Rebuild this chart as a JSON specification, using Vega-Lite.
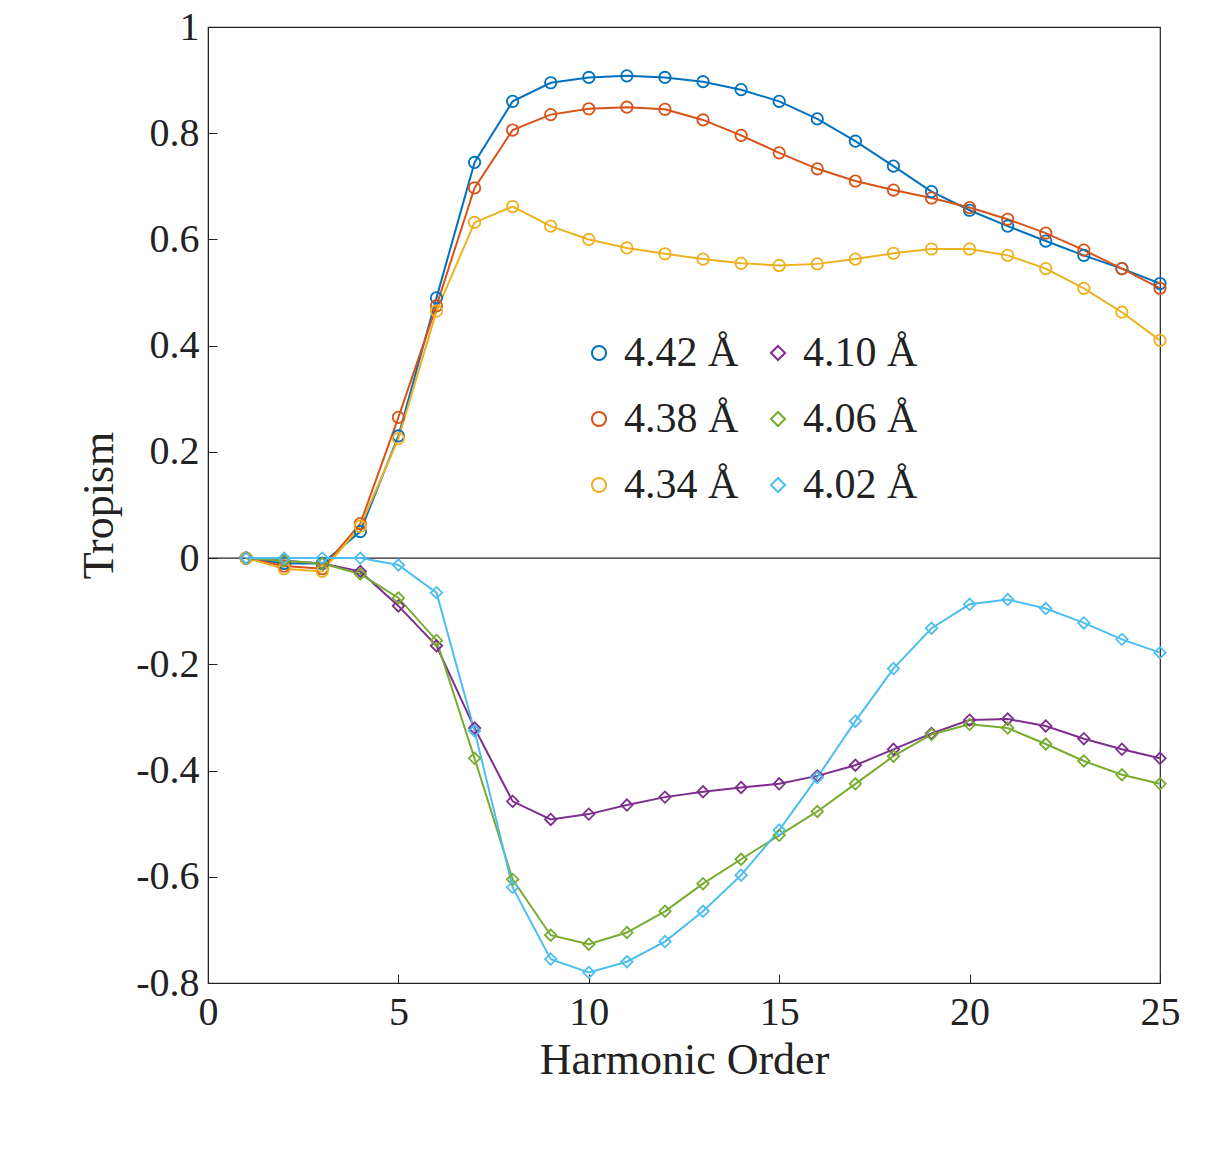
{
  "$schema": "https://vega.github.io/schema/vega-lite/v6.json",
  "width": 952,
  "height": 956,
  "autosize": "none",
  "padding": {"left": 208, "top": 27, "right": 62, "bottom": 171},
  "background": "white",
  "config": {
    "font": "Liberation Serif",
    "view": {"stroke": "#222", "strokeWidth": 1.2},
    "axis": {"grid": false, "labelFont": "Liberation Serif", "titleFont": "Liberation Serif", "labelFontSize": 40, "titleFontSize": 44, "titleFontWeight": "normal", "labelColor": "#222", "titleColor": "#222", "domainColor": "#222", "tickColor": "#222", "tickSize": -9, "labelPadding": 18, "labelFlush": false}
  },
  "datasets": {
    "zero": [{"y": 0}]
  },
  "data": {
    "values": [
      {"h":1,"s":"4.42 Å","v":0},{"h":2,"s":"4.42 Å","v":-0.01},{"h":3,"s":"4.42 Å","v":-0.01},{"h":4,"s":"4.42 Å","v":0.05},{"h":5,"s":"4.42 Å","v":0.23},{"h":6,"s":"4.42 Å","v":0.49},{"h":7,"s":"4.42 Å","v":0.745},{"h":8,"s":"4.42 Å","v":0.86},{"h":9,"s":"4.42 Å","v":0.895},{"h":10,"s":"4.42 Å","v":0.905},{"h":11,"s":"4.42 Å","v":0.908},{"h":12,"s":"4.42 Å","v":0.905},{"h":13,"s":"4.42 Å","v":0.897},{"h":14,"s":"4.42 Å","v":0.882},{"h":15,"s":"4.42 Å","v":0.86},{"h":16,"s":"4.42 Å","v":0.827},{"h":17,"s":"4.42 Å","v":0.785},{"h":18,"s":"4.42 Å","v":0.738},{"h":19,"s":"4.42 Å","v":0.69},{"h":20,"s":"4.42 Å","v":0.655},{"h":21,"s":"4.42 Å","v":0.625},{"h":22,"s":"4.42 Å","v":0.597},{"h":23,"s":"4.42 Å","v":0.57},{"h":24,"s":"4.42 Å","v":0.545},{"h":25,"s":"4.42 Å","v":0.517},
      {"h":1,"s":"4.38 Å","v":0},{"h":2,"s":"4.38 Å","v":-0.015},{"h":3,"s":"4.38 Å","v":-0.02},{"h":4,"s":"4.38 Å","v":0.065},{"h":5,"s":"4.38 Å","v":0.265},{"h":6,"s":"4.38 Å","v":0.475},{"h":7,"s":"4.38 Å","v":0.697},{"h":8,"s":"4.38 Å","v":0.806},{"h":9,"s":"4.38 Å","v":0.835},{"h":10,"s":"4.38 Å","v":0.846},{"h":11,"s":"4.38 Å","v":0.849},{"h":12,"s":"4.38 Å","v":0.845},{"h":13,"s":"4.38 Å","v":0.825},{"h":14,"s":"4.38 Å","v":0.796},{"h":15,"s":"4.38 Å","v":0.763},{"h":16,"s":"4.38 Å","v":0.733},{"h":17,"s":"4.38 Å","v":0.71},{"h":18,"s":"4.38 Å","v":0.693},{"h":19,"s":"4.38 Å","v":0.678},{"h":20,"s":"4.38 Å","v":0.66},{"h":21,"s":"4.38 Å","v":0.638},{"h":22,"s":"4.38 Å","v":0.612},{"h":23,"s":"4.38 Å","v":0.58},{"h":24,"s":"4.38 Å","v":0.545},{"h":25,"s":"4.38 Å","v":0.508},
      {"h":1,"s":"4.34 Å","v":0},{"h":2,"s":"4.34 Å","v":-0.02},{"h":3,"s":"4.34 Å","v":-0.025},{"h":4,"s":"4.34 Å","v":0.06},{"h":5,"s":"4.34 Å","v":0.225},{"h":6,"s":"4.34 Å","v":0.465},{"h":7,"s":"4.34 Å","v":0.632},{"h":8,"s":"4.34 Å","v":0.662},{"h":9,"s":"4.34 Å","v":0.625},{"h":10,"s":"4.34 Å","v":0.6},{"h":11,"s":"4.34 Å","v":0.584},{"h":12,"s":"4.34 Å","v":0.573},{"h":13,"s":"4.34 Å","v":0.563},{"h":14,"s":"4.34 Å","v":0.555},{"h":15,"s":"4.34 Å","v":0.551},{"h":16,"s":"4.34 Å","v":0.554},{"h":17,"s":"4.34 Å","v":0.563},{"h":18,"s":"4.34 Å","v":0.574},{"h":19,"s":"4.34 Å","v":0.582},{"h":20,"s":"4.34 Å","v":0.582},{"h":21,"s":"4.34 Å","v":0.57},{"h":22,"s":"4.34 Å","v":0.545},{"h":23,"s":"4.34 Å","v":0.508},{"h":24,"s":"4.34 Å","v":0.463},{"h":25,"s":"4.34 Å","v":0.41},
      {"h":1,"s":"4.10 Å","v":0},{"h":2,"s":"4.10 Å","v":-0.005},{"h":3,"s":"4.10 Å","v":-0.01},{"h":4,"s":"4.10 Å","v":-0.025},{"h":5,"s":"4.10 Å","v":-0.09},{"h":6,"s":"4.10 Å","v":-0.165},{"h":7,"s":"4.10 Å","v":-0.32},{"h":8,"s":"4.10 Å","v":-0.458},{"h":9,"s":"4.10 Å","v":-0.492},{"h":10,"s":"4.10 Å","v":-0.482},{"h":11,"s":"4.10 Å","v":-0.465},{"h":12,"s":"4.10 Å","v":-0.45},{"h":13,"s":"4.10 Å","v":-0.44},{"h":14,"s":"4.10 Å","v":-0.432},{"h":15,"s":"4.10 Å","v":-0.425},{"h":16,"s":"4.10 Å","v":-0.41},{"h":17,"s":"4.10 Å","v":-0.39},{"h":18,"s":"4.10 Å","v":-0.36},{"h":19,"s":"4.10 Å","v":-0.33},{"h":20,"s":"4.10 Å","v":-0.305},{"h":21,"s":"4.10 Å","v":-0.303},{"h":22,"s":"4.10 Å","v":-0.316},{"h":23,"s":"4.10 Å","v":-0.34},{"h":24,"s":"4.10 Å","v":-0.36},{"h":25,"s":"4.10 Å","v":-0.377},
      {"h":1,"s":"4.06 Å","v":0},{"h":2,"s":"4.06 Å","v":-0.005},{"h":3,"s":"4.06 Å","v":-0.01},{"h":4,"s":"4.06 Å","v":-0.03},{"h":5,"s":"4.06 Å","v":-0.075},{"h":6,"s":"4.06 Å","v":-0.155},{"h":7,"s":"4.06 Å","v":-0.377},{"h":8,"s":"4.06 Å","v":-0.605},{"h":9,"s":"4.06 Å","v":-0.71},{"h":10,"s":"4.06 Å","v":-0.727},{"h":11,"s":"4.06 Å","v":-0.705},{"h":12,"s":"4.06 Å","v":-0.665},{"h":13,"s":"4.06 Å","v":-0.613},{"h":14,"s":"4.06 Å","v":-0.567},{"h":15,"s":"4.06 Å","v":-0.522},{"h":16,"s":"4.06 Å","v":-0.477},{"h":17,"s":"4.06 Å","v":-0.425},{"h":18,"s":"4.06 Å","v":-0.373},{"h":19,"s":"4.06 Å","v":-0.332},{"h":20,"s":"4.06 Å","v":-0.313},{"h":21,"s":"4.06 Å","v":-0.32},{"h":22,"s":"4.06 Å","v":-0.35},{"h":23,"s":"4.06 Å","v":-0.382},{"h":24,"s":"4.06 Å","v":-0.408},{"h":25,"s":"4.06 Å","v":-0.425},
      {"h":1,"s":"4.02 Å","v":0},{"h":2,"s":"4.02 Å","v":0},{"h":3,"s":"4.02 Å","v":0},{"h":4,"s":"4.02 Å","v":0},{"h":5,"s":"4.02 Å","v":-0.013},{"h":6,"s":"4.02 Å","v":-0.065},{"h":7,"s":"4.02 Å","v":-0.325},{"h":8,"s":"4.02 Å","v":-0.62},{"h":9,"s":"4.02 Å","v":-0.755},{"h":10,"s":"4.02 Å","v":-0.78},{"h":11,"s":"4.02 Å","v":-0.76},{"h":12,"s":"4.02 Å","v":-0.722},{"h":13,"s":"4.02 Å","v":-0.665},{"h":14,"s":"4.02 Å","v":-0.597},{"h":15,"s":"4.02 Å","v":-0.512},{"h":16,"s":"4.02 Å","v":-0.413},{"h":17,"s":"4.02 Å","v":-0.307},{"h":18,"s":"4.02 Å","v":-0.208},{"h":19,"s":"4.02 Å","v":-0.132},{"h":20,"s":"4.02 Å","v":-0.087},{"h":21,"s":"4.02 Å","v":-0.078},{"h":22,"s":"4.02 Å","v":-0.095},{"h":23,"s":"4.02 Å","v":-0.122},{"h":24,"s":"4.02 Å","v":-0.153},{"h":25,"s":"4.02 Å","v":-0.178}
    ]
  },
  "encoding": {
    "x": {"field": "h", "type": "quantitative", "title": "Harmonic Order", "scale": {"domain": [0, 25], "nice": false}, "axis": {"values": [0, 5, 10, 15, 20, 25], "titlePadding": 6}},
    "y": {"field": "v", "type": "quantitative", "title": "Tropism", "scale": {"domain": [-0.8, 1], "nice": false}, "axis": {"values": [-0.8, -0.6, -0.4, -0.2, 0, 0.2, 0.4, 0.6, 0.8, 1], "format": "~g", "labelExpr": "replace(datum.label, '−', '-')", "titlePadding": 14}},
    "color": {"field": "s", "type": "nominal", "title": null,
      "scale": {"domain": ["4.42 Å", "4.38 Å", "4.34 Å", "4.10 Å", "4.06 Å", "4.02 Å"], "range": ["#0072BD", "#D95319", "#EDB120", "#7E2F8E", "#77AC30", "#4DBEEE"]},
      "legend": {"orient": "none", "legendX": 370, "legendY": 305, "columns": 2, "labelFontSize": 42, "labelFont": "Liberation Serif", "labelColor": "#222", "symbolSize": 200, "symbolStrokeWidth": 2, "rowPadding": 24, "columnPadding": 18, "labelLimit": 300}},
    "shape": {"field": "s", "type": "nominal", "title": null,
      "scale": {"domain": ["4.42 Å", "4.38 Å", "4.34 Å", "4.10 Å", "4.06 Å", "4.02 Å"], "range": ["circle", "circle", "circle", "diamond", "diamond", "diamond"]}}
  },
  "layer": [
    {"data": {"name": "zero"}, "mark": {"type": "rule", "color": "#222", "strokeWidth": 1.2}, "encoding": {"y": {"field": "y", "type": "quantitative"}, "x": null, "color": null, "shape": null}},
    {"mark": {"type": "line", "strokeWidth": 2}, "encoding": {"shape": null}},
    {"mark": {"type": "point", "filled": false, "size": 130, "strokeWidth": 1.8, "opacity": 1}}
  ]
}
